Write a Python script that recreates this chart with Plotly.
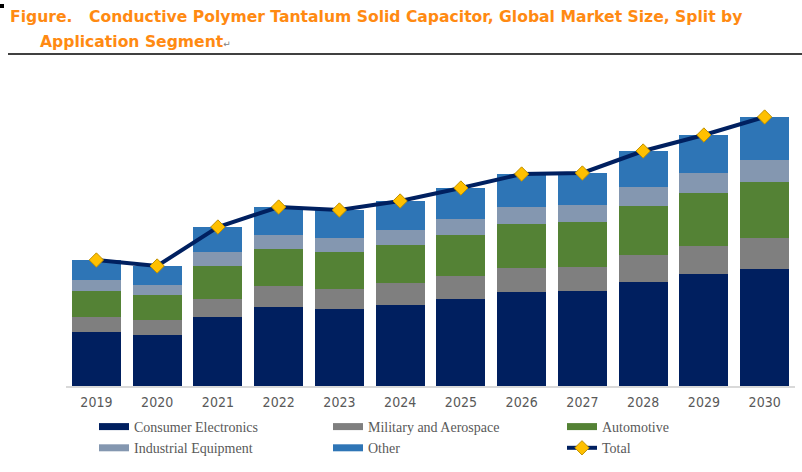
import plotly.graph_objects as go

years = ["2019", "2020", "2021", "2022", "2023", "2024", "2025", "2026", "2027", "2028", "2029", "2030"]
consumer = [54, 51, 69, 79, 77, 81, 87, 94, 95, 104, 112, 117]
military = [15, 15, 18, 21, 20, 22, 23, 24, 24, 27, 28, 31]
automotive = [26, 25, 33, 37, 37, 38, 41, 44, 45, 49, 53, 56]
industrial = [11, 10, 14, 14, 14, 15, 16, 17, 17, 19, 20, 22]
other = [20, 19, 25, 28, 28, 29, 31, 33, 32, 36, 38, 43]
total = [c + m + a + i + o for c, m, a, i, o in zip(consumer, military, automotive, industrial, other)]

series = [
    ("Consumer Electronics", consumer, "#001F5F"),
    ("Military and Aerospace", military, "#7F7F7F"),
    ("Automotive", automotive, "#548235"),
    ("Industrial Equipment", industrial, "#8497B0"),
    ("Other", other, "#2E75B6"),
]

fig = go.Figure()
for name, vals, col in series:
    fig.add_trace(go.Bar(x=years, y=vals, name=name, marker_color=col,
                         marker_line_width=0, showlegend=False))
# legend entries (wide swatches)
for name, vals, col in series:
    fig.add_trace(go.Scatter(x=[None], y=[None], mode="lines", name=name,
                             line=dict(color=col, width=7)))
fig.add_trace(go.Scatter(x=years, y=total, name="Total", mode="lines+markers",
                         line=dict(color="#002060", width=4),
                         marker=dict(symbol="diamond", size=11, color="#FFC000",
                                     line=dict(color="#BF9000", width=1))))

W, H = 802, 472
L, R, T, B = 66, 7, 80, 86
PW = W - L - R
PH = H - T - B

def px(x):
    return (x - L) / PW

def py(y):
    return (H - B - y) / PH

title_font = dict(family="DejaVu Sans", size=15.6, color="#FF8A12")
annotations = [
    dict(x=px(8), y=py(17), xref="paper", yref="paper", xanchor="left", yanchor="middle",
         text="<b>Figure.</b>", showarrow=False, font=title_font),
    dict(x=px(87), y=py(17), xref="paper", yref="paper", xanchor="left", yanchor="middle",
         text="<b>Conductive Polymer Tantalum Solid Capacitor, Global Market Size, Split by</b>",
         showarrow=False, font=title_font),
    dict(x=px(38), y=py(42), xref="paper", yref="paper", xanchor="left", yanchor="middle",
         text="<b>Application Segment</b><span style='font-size:9px;color:#808080'>↵</span>",
         showarrow=False, font=title_font),
]

shapes = [
    dict(type="line", xref="paper", yref="paper", x0=px(8), x1=px(802), y0=py(54), y1=py(54),
         line=dict(color="#000000", width=1.5)),
    dict(type="rect", xref="paper", yref="paper", x0=px(0), x1=px(4), y0=py(4), y1=py(8),
         line=dict(width=0), fillcolor="#000000"),
]

fig.update_layout(
    width=W, height=H,
    margin=dict(l=L, r=R, t=T, b=B, autoexpand=False),
    barmode="stack", bargap=0.19,
    plot_bgcolor="white", paper_bgcolor="white",
    xaxis=dict(range=[-0.5, len(years) - 0.5], showgrid=False, showline=True,
               linecolor="#D9D9D9", linewidth=1.5, ticks="", ticklabelstandoff=2,
               tickfont=dict(family="DejaVu Sans Condensed, Liberation Sans", size=14, color="#595959")),
    yaxis=dict(range=[0, PH], visible=False, showgrid=False),
    legend=dict(orientation="h", xref="container", yref="container",
                x=94 / W, y=(H - 411) / H, xanchor="left", yanchor="top",
                entrywidth=189, entrywidthmode="pixels", traceorder="normal",
                font=dict(family="Liberation Serif, Times New Roman", size=14, color="#595959"),
                itemwidth=30, tracegroupgap=0),
    annotations=annotations, shapes=shapes,
)

fig.write_html("out.html")
